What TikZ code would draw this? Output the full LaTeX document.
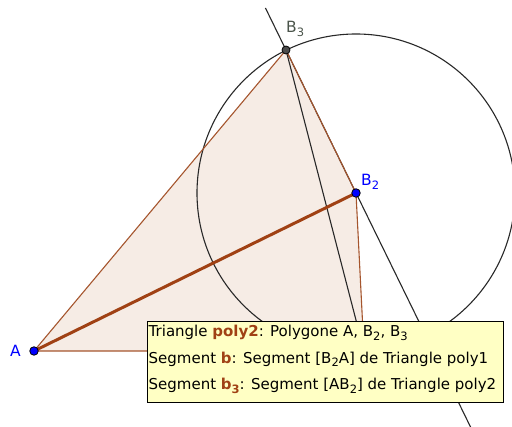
\documentclass[tikz,border=0pt]{standalone}
\usepackage{fontspec}
\setmainfont{DejaVu Sans}
\usetikzlibrary{calc}
\definecolor{edgebrown}{RGB}{165,85,45}
\definecolor{thickbrown}{RGB}{160,65,20}
\definecolor{polyfill}{RGB}{246,236,229}
\definecolor{linegray}{RGB}{40,40,40}
\definecolor{tipyellow}{RGB}{255,255,196}
\definecolor{ptblue}{RGB}{0,0,255}
\definecolor{labgray}{RGB}{75,85,75}
\newcommand\lowsub[1]{\raisebox{-0.4ex}{\fontsize{11.5}{11.5}\selectfont #1}}
\begin{document}
\begin{tikzpicture}[x=1pt,y=-1pt,
  geoline/.style={draw=linegray, line width=1.1pt},
  polyedge/.style={draw=edgebrown, line width=1.1pt},
  segthick/.style={draw=thickbrown, line width=3pt},
  bluept/.style={circle, fill=ptblue, draw=black, line width=0.8pt, inner sep=0pt, minimum size=8.5pt},
  graypt/.style={circle, fill=black!70, draw=black, line width=0.8pt, inner sep=0pt, minimum size=8pt},
  ptlabel/.style={font=\fontsize{15.5}{15.5}\selectfont, inner sep=0pt, anchor=base west},
  tipbox/.style={draw=black, fill=tipyellow, line width=0.8pt, inner sep=0pt, anchor=north west},
  tiptext/.style={font=\fontsize{15}{15}\selectfont, inner sep=0pt, anchor=base west}]
\useasboundingbox (0,0) rectangle (512,427);
\coordinate (A) at (34,351);
\coordinate (B2) at (356,193);
\coordinate (B3) at (286,50);
\coordinate (C) at (364,351);
\coordinate (top) at ($(B3)!-0.294!(B2)$);
\coordinate (bot) at ($(B3)!2.64!(B2)$);
% fill
\fill[polyfill] (A) -- (B3) -- (B2) -- (C) -- cycle;
% circle and lines
\draw[geoline] (B2) circle (159pt);
\draw[geoline] (top) -- (bot);
\draw[geoline] (B3) -- (C);
% polygon edges
\draw[polyedge] (A) -- (B3) -- (B2) -- (C) -- cycle;
\draw[segthick] (A) -- (B2);
% points
\node[bluept] (pA) at (A) {};
\node[bluept] (pB2) at (B2) {};
\node[graypt] (pB3) at (B3) {};
% labels
\node[ptlabel, text=ptblue] (lA) at (10,357) {A};
\node[ptlabel, text=ptblue] (lB2) at (361,186) {B\lowsub{2}};
\node[ptlabel, text=labgray] (lB3) at (286,33) {B\lowsub{3}};
% tooltip
\node[tipbox, minimum width=355.5pt, minimum height=81pt] (tip) at (147,321) {};
\node[tiptext] (t1) at (148.5,337) {Triangle {\bfseries\color{thickbrown}poly2}: Polygone A, B\lowsub{2}, B\lowsub{3}};
\node[tiptext] (t2) at (148.5,363.5) {Segment {\bfseries\color{thickbrown}b}: Segment [B\lowsub{2}A] de Triangle poly1};
\node[tiptext] (t3) at (148.5,390) {Segment {\bfseries\color{thickbrown}b\lowsub{3}}: Segment [AB\lowsub{2}] de Triangle poly2};
\end{tikzpicture}
\end{document}
